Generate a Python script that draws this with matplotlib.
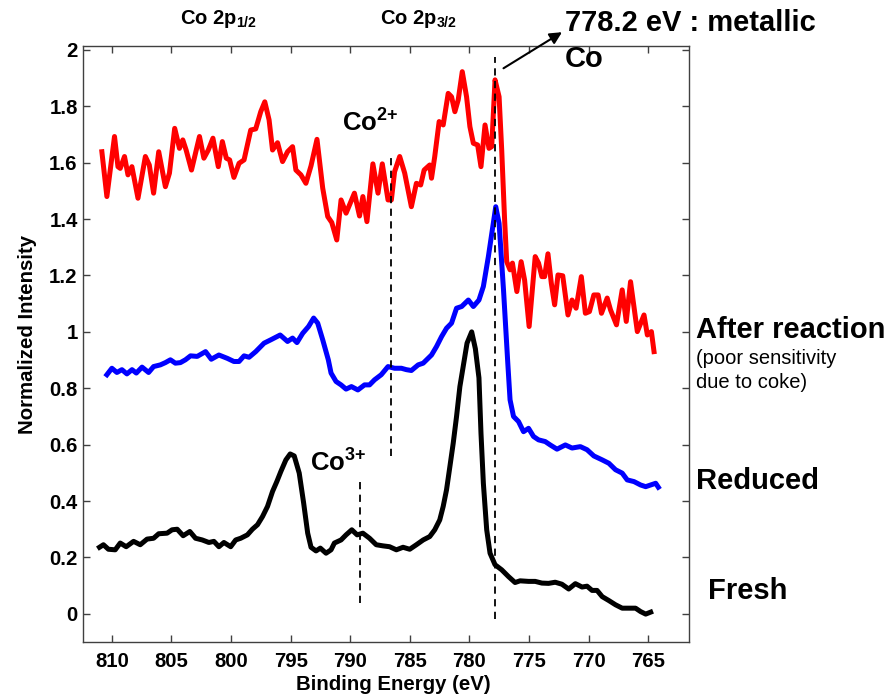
import matplotlib
matplotlib.use('Agg')
import matplotlib.pyplot as plt
import numpy as np

plt.rcParams['font.family'] = ['Liberation Sans', 'DejaVu Sans']
plt.rcParams['mathtext.fontset'] = 'custom'
plt.rcParams['mathtext.rm'] = 'Liberation Sans'
plt.rcParams['mathtext.bf'] = 'Liberation Sans:bold'
plt.rcParams['mathtext.it'] = 'Liberation Sans:italic'

# after reaction (red)
red_energy = [810.84, 810.42, 809.78, 809.49, 809.30, 808.94, 808.65, 808.32, 807.81, 807.19,
              806.86, 806.50, 806.07, 805.51, 805.17, 804.73, 804.33, 804.05, 803.77, 803.32,
              802.65, 802.28, 801.91, 801.52, 801.07, 800.73, 800.40, 800.12, 799.76, 799.33,
              798.91, 798.35, 797.93, 797.51, 797.17,
              796.81, 796.52, 796.10, 795.68, 795.26, 794.84, 794.56, 794.14, 793.72, 793.29,
              792.79, 792.31, 791.89, 791.55, 791.13, 790.77, 790.35, 789.65, 789.22, 788.94,
              788.60, 788.10, 787.67, 787.31, 786.83, 786.55, 786.28, 785.85, 785.43, 784.87,
              784.45, 784.09, 783.80, 783.33, 783.18, 782.91, 782.54, 782.20, 781.78, 781.50,
              781.22, 780.94, 780.60, 780.24, 779.96, 779.67, 779.31, 779.03, 778.69, 778.36,
              778.13, 777.85, 777.51,
              777.29, 777.05, 776.87, 776.59, 776.39, 776.02, 775.66, 775.37, 774.99, 774.48,
              774.20, 773.92, 773.69, 773.41, 773.13, 772.85, 772.57, 772.17, 771.73, 771.39,
              771.05, 770.61, 770.27, 769.93, 769.56, 769.20, 768.92, 768.44, 768.16, 767.66,
              767.18, 766.84, 766.48, 765.91, 765.35, 765.07, 764.73, 764.51]
red_intensity = [1.639, 1.48, 1.693, 1.586, 1.58, 1.622, 1.557, 1.586, 1.474, 1.622,
                 1.592, 1.492, 1.639, 1.515, 1.563, 1.722, 1.651, 1.681, 1.645, 1.574,
                 1.693, 1.616, 1.645, 1.687, 1.586, 1.675, 1.616, 1.61, 1.548, 1.598,
                 1.61, 1.716, 1.72, 1.781, 1.816,
                 1.752, 1.645, 1.671, 1.604, 1.639, 1.657, 1.574, 1.557, 1.527, 1.589,
                 1.683, 1.51, 1.409, 1.388, 1.326, 1.468, 1.421, 1.492, 1.411, 1.48,
                 1.391, 1.596, 1.492, 1.596, 1.468, 1.468, 1.568, 1.622, 1.563, 1.444,
                 1.527, 1.521, 1.574, 1.592, 1.545, 1.622, 1.746, 1.734, 1.846, 1.834,
                 1.781, 1.823, 1.923, 1.834, 1.728, 1.669, 1.663, 1.586, 1.734, 1.651,
                 1.657, 1.894, 1.834,
                 1.645, 1.40, 1.249, 1.22, 1.244, 1.143, 1.249, 1.184, 1.019, 1.267,
                 1.244, 1.196, 1.196, 1.277, 1.173, 1.096, 1.202, 1.199, 1.06, 1.113,
                 1.084, 1.196, 1.066, 1.072, 1.131, 1.131, 1.066, 1.12, 1.078, 1.025,
                 1.149, 1.037, 1.178, 1.001, 1.06, 0.989, 1.001, 0.93]

# reduced (blue)
blue_energy = [810.42, 810.0, 809.58, 809.16, 808.74, 808.31, 807.95, 807.47, 806.92, 806.50,
               805.93, 805.51, 805.09, 804.67, 804.25, 803.83, 803.40, 802.84, 802.14, 801.66,
               801.02, 800.31, 799.76, 799.33, 798.91, 798.49, 797.93, 797.23, 796.66, 795.88,
               795.26, 794.84, 794.47, 793.99, 793.5, 793.07, 792.73, 792.31, 791.84, 791.61,
               791.19, 790.77, 790.35, 789.9, 789.36, 788.80, 788.38, 787.96, 787.40, 786.83,
               786.28, 785.71, 785.29, 784.87, 784.30, 783.88, 783.18, 782.76, 782.34, 781.92,
               781.50, 781.08, 780.65, 780.09, 779.67, 779.2, 778.83, 778.41, 777.79, 777.51,
               777.14, 776.78, 776.59, 776.30, 775.88, 775.46, 775.04, 774.62, 774.20, 773.64,
               773.22, 772.65, 771.95, 771.39, 770.69, 770.13, 769.56, 768.86, 768.30, 767.74,
               767.18, 766.76, 766.19, 765.64, 765.21, 764.79, 764.37, 764.15]
blue_intensity = [0.848, 0.871, 0.856, 0.866, 0.851, 0.866, 0.854, 0.875, 0.856, 0.877,
                  0.883, 0.891, 0.901, 0.889, 0.891, 0.901, 0.915, 0.913, 0.930, 0.903,
                  0.918, 0.906, 0.895, 0.895, 0.915, 0.91, 0.93, 0.96, 0.972, 0.989,
                  0.966, 0.978, 0.962, 0.995, 1.019, 1.049, 1.031, 0.972, 0.901, 0.854,
                  0.824, 0.812, 0.797, 0.806, 0.794, 0.812, 0.812, 0.83, 0.848, 0.877,
                  0.871, 0.871, 0.866, 0.863, 0.883, 0.889, 0.918, 0.948, 0.983, 1.013,
                  1.031, 1.084, 1.09, 1.113, 1.09, 1.113, 1.161, 1.267, 1.444, 1.385,
                  1.149, 0.889, 0.759, 0.70, 0.682, 0.646, 0.658, 0.629, 0.617, 0.611,
                  0.599, 0.584, 0.599, 0.588, 0.593, 0.582, 0.56, 0.546, 0.534, 0.511,
                  0.499, 0.475, 0.469, 0.457, 0.451, 0.457, 0.463, 0.449]

# fresh (black)
black_energy = [811.04, 810.71, 810.29, 809.72, 809.30, 808.80, 808.18, 807.62, 807.05, 806.50,
                806.07, 805.37, 804.95, 804.52, 804.02, 803.46, 802.98, 802.42, 801.86, 801.44,
                801.02, 800.60, 800.03, 799.61, 799.19, 798.63, 798.21, 797.78, 797.36, 796.94,
                796.52, 796.16, 795.82, 795.40, 795.04, 794.70, 794.28, 793.91, 793.57, 793.29,
                792.87, 792.51, 792.03, 791.61, 791.33, 790.77, 790.35, 789.87, 789.42, 788.94,
                788.38, 787.82, 787.25, 786.70, 786.13, 785.57, 785.01, 784.45, 783.88, 783.33,
                782.91, 782.49, 782.20, 781.92, 781.64, 781.36, 781.08, 780.80, 780.55, 780.2,
                779.81, 779.5, 779.2, 779.03, 778.83, 778.55, 778.27, 777.85, 777.29, 776.72,
                776.17, 775.75, 775.04, 774.48, 773.92, 773.36, 772.80, 772.24, 771.67, 771.11,
                770.55, 770.13, 769.71, 769.29, 768.86, 768.30, 767.74, 767.18, 766.62, 766.06,
                765.64, 765.21, 764.79]
black_intensity = [0.236, 0.245, 0.229, 0.227, 0.251, 0.238, 0.257, 0.245, 0.265, 0.268,
                   0.284, 0.286, 0.298, 0.30, 0.277, 0.292, 0.268, 0.262, 0.253, 0.257,
                   0.238, 0.253, 0.238, 0.262, 0.268, 0.28, 0.30, 0.316, 0.345, 0.381,
                   0.434, 0.469, 0.505, 0.546, 0.567, 0.56, 0.499, 0.393, 0.286, 0.236,
                   0.223, 0.233, 0.215, 0.227, 0.251, 0.262, 0.28, 0.298, 0.28, 0.286,
                   0.268, 0.245, 0.241, 0.238, 0.227, 0.236, 0.229, 0.245, 0.262, 0.274,
                   0.298, 0.333, 0.381, 0.44, 0.522, 0.605, 0.70, 0.806, 0.87, 0.96,
                   1.0, 0.94, 0.837, 0.641, 0.463, 0.298, 0.215, 0.174, 0.156, 0.132,
                   0.111, 0.117, 0.115, 0.115, 0.109, 0.108, 0.112, 0.105, 0.088, 0.107,
                   0.095, 0.098, 0.083, 0.083, 0.061, 0.047, 0.032, 0.02, 0.02, 0.02,
                   0.008, -0.001, 0.006]

# dashed reference lines: Co2+, Co3+, metallic Co
ref_energy = [786.6, 789.17, 777.85]
ref_top = [1.622, 0.481, 1.976]
ref_bottom = [0.558, 0.038, -0.019]

xticks = [810, 805, 800, 795, 790, 785, 780, 775, 770, 765]
yticks = [0, 0.2, 0.4, 0.6, 0.8, 1, 1.2, 1.4, 1.6, 1.8, 2]
ytick_labels = ['0', '0.2', '0.4', '0.6', '0.8', '1', '1.2', '1.4', '1.6', '1.8', '2']

fig = plt.figure(figsize=(8.85, 6.97), dpi=100)
ax = fig.add_axes([0.0941, 0.0789, 0.6841, 0.8555])

ax.plot(red_energy, red_intensity, color='#ff0000', lw=3.6, solid_joinstyle='round')
ax.plot(blue_energy, blue_intensity, color='#0000ff', lw=3.6, solid_joinstyle='round')
ax.plot(black_energy, black_intensity, color='black', lw=3.6, solid_joinstyle='round')
ax.vlines(ref_energy, ref_bottom, ref_top, colors='black', linestyles=(0, (4, 3)), lw=1.3)

ax.set_xlim(812.4, 761.6)
ax.set_ylim(-0.1, 2.015)
ax.set_xticks(xticks)
ax.set_yticks(yticks)
ax.set_yticklabels(ytick_labels)
ax.tick_params(direction='in', length=5, width=1, top=True, right=True,
               labeltop=False, labelright=False, labelsize=14.7, color='#404040')
ax.tick_params(axis='x', pad=7)
ax.tick_params(axis='y', pad=4)
for lab in ax.get_xticklabels() + ax.get_yticklabels():
    lab.set_fontweight('bold')
for sp in ax.spines.values():
    sp.set_color('#404040')
    sp.set_linewidth(1.0)

# axis labels
fig.text(393 / 885, 1 - 685 / 697, 'Binding Energy (eV)', fontsize=14.7, fontweight='bold',
         ha='center', va='center')
fig.text(28 / 885, 1 - 334 / 697, 'Normalized Intensity', fontsize=14.7, fontweight='bold',
         ha='center', va='center', rotation=90)

# headers
fig.text(180 / 885, 1 - 19 / 697, r'Co 2p$_{\mathbf{1/2}}$', fontsize=14.5, fontweight='bold',
         ha='left', va='center')
fig.text(380 / 885, 1 - 19 / 697, r'Co 2p$_{\mathbf{3/2}}$', fontsize=14.5, fontweight='bold',
         ha='left', va='center')

# annotations
fig.text(342 / 885, 1 - 123 / 697, r'Co$^{\mathbf{2{+}}}$', fontsize=18.5, fontweight='bold',
         ha='left', va='center')
fig.text(310 / 885, 1 - 463 / 697, r'Co$^{\mathbf{3{+}}}$', fontsize=18.5, fontweight='bold',
         ha='left', va='center')
fig.text(565 / 885, 1 - 23 / 697, '778.2 eV : metallic', fontsize=21, fontweight='bold',
         ha='left', va='center')
fig.text(565 / 885, 1 - 59 / 697, 'Co', fontsize=21, fontweight='bold', ha='left', va='center')
ax.annotate('', xy=(772.23, 2.063), xytext=(777.14, 1.935),
            arrowprops=dict(arrowstyle='-|>', color='black', lw=1.5, mutation_scale=18,
                            shrinkA=0, shrinkB=0),
            annotation_clip=False)

# curve labels
fig.text(696 / 885, 1 - 330 / 697, 'After reaction', fontsize=21, fontweight='bold',
         ha='left', va='center')
fig.text(696 / 885, 1 - 359 / 697, '(poor sensitivity', fontsize=14.5, ha='left', va='center')
fig.text(696 / 885, 1 - 383 / 697, 'due to coke)', fontsize=14.5, ha='left', va='center')
fig.text(696 / 885, 1 - 481 / 697, 'Reduced', fontsize=21, fontweight='bold',
         ha='left', va='center')
fig.text(708 / 885, 1 - 591 / 697, 'Fresh', fontsize=21, fontweight='bold',
         ha='left', va='center')

plt.savefig('out.png', dpi=100)
